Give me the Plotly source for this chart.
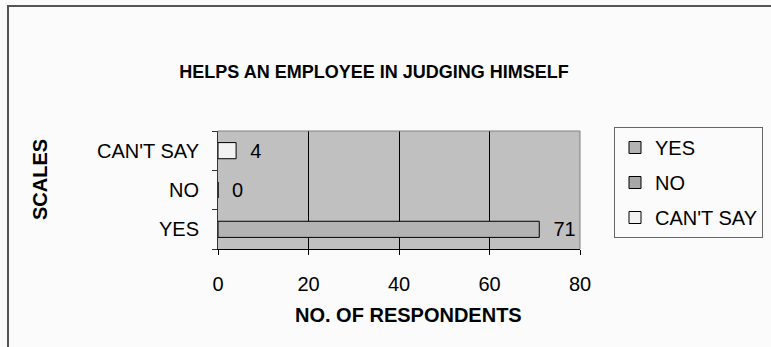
import plotly.graph_objects as go

# Survey responses: does appraisal help an employee in judging himself?
categories = ["YES", "NO", "CAN'T SAY"]
respondents = [71, 0, 4]
bar_colors = ["#b3b3b3", "#a8a8a8", "#f2f2f2"]
x_ticks = [0, 20, 40, 60, 80]

FONT = "Liberation Sans, Arial, sans-serif"

fig = go.Figure()
for cat, val, col in zip(categories, respondents, bar_colors):
    fig.add_trace(go.Bar(
        y=[cat], x=[val], orientation="h", name=cat,
        legendgroup=cat,
        marker=dict(color=col, line=dict(color="#000000", width=1)),
        width=0.41,
        text=[val], texttemplate="\u00a0\u00a0%{x}",
        textposition="outside", constraintext="none",
        textfont=dict(size=20, color="#000000", family=FONT),
        cliponaxis=False,
    ))

# plot-area frame (top and right edges) and the outer chart border
px_l, px_r, px_t, px_b = 218, 580, 131, 249
pw, ph = px_r - px_l, px_b - px_t

def xp(px):
    return (px - px_l) / pw

def yp(py):
    return (px_b - py) / ph

shapes = [
    dict(type="line", xref="paper", yref="paper", x0=0, x1=1, y0=1, y1=1,
         line=dict(color="#808080", width=1), layer="above"),
    dict(type="line", xref="paper", yref="paper", x0=1, x1=1, y0=0, y1=1,
         line=dict(color="#808080", width=1), layer="above"),
    dict(type="rect", xref="paper", yref="paper",
         x0=xp(8), x1=xp(800), y0=yp(6), y1=yp(380),
         line=dict(color="#555555", width=2), layer="below"),
]

annotations = [
    dict(text="<b>NO. OF RESPONDENTS</b>", xref="paper", yref="paper",
         x=xp(408), y=yp(315), showarrow=False,
         font=dict(size=20, color="#000000", family=FONT),
         xanchor="center", yanchor="middle"),
    dict(text="<b>SCALES</b>", xref="paper", yref="paper",
         x=xp(40), y=yp(180), showarrow=False, textangle=-90,
         font=dict(size=20, color="#000000", family=FONT),
         xanchor="center", yanchor="middle"),
]

fig.update_layout(
    width=771, height=347,
    margin=dict(l=px_l, r=771 - px_r, t=px_t, b=347 - px_b, pad=0,
                autoexpand=False),
    paper_bgcolor="#fbfbfb", plot_bgcolor="#c0c0c0",
    font=dict(family=FONT, size=20, color="#000000"),
    barmode="overlay",
    title=dict(text="<b>HELPS AN EMPLOYEE IN JUDGING HIMSELF</b>",
               x=374 / 771, xanchor="center",
               y=1 - 72 / 347, yanchor="middle", yref="container",
               font=dict(size=18, color="#000000", family=FONT)),
    xaxis=dict(range=[0, 80], tickvals=x_ticks, showgrid=True,
               gridcolor="#000000", gridwidth=1, zeroline=False,
               showline=True, linecolor="#000000", linewidth=1,
               ticks="outside", ticklen=5, tickcolor="#000000",
               tickfont=dict(size=20), ticklabelstandoff=12,
               fixedrange=True),
    yaxis=dict(type="category", categoryorder="array",
               categoryarray=categories, showgrid=False, zeroline=False,
               showline=True, linecolor="#333333", linewidth=1,
               ticks="outside", tickson="boundaries", ticklen=5,
               tickcolor="#333333", tickfont=dict(size=20),
               ticklabelstandoff=14, fixedrange=True),
    legend=dict(x=xp(614), xanchor="left", y=yp(127), yanchor="top",
                bgcolor="#fbfbfb", bordercolor="#666666", borderwidth=1,
                font=dict(size=20, color="#000000"),
                traceorder="grouped", tracegroupgap=6),
    shapes=shapes,
    annotations=annotations,
    showlegend=True,
)

fig.write_html("out.html")
